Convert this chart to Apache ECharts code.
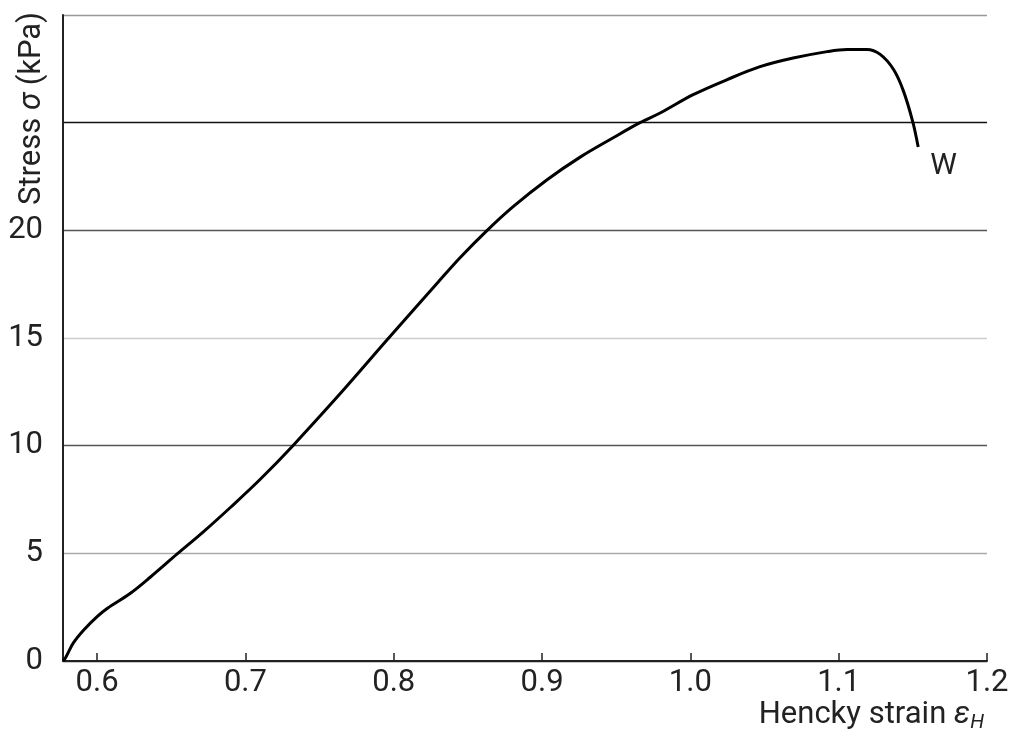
<!DOCTYPE html>
<html><head><meta charset="utf-8">
<script src="https://cdn.jsdelivr.net/npm/echarts@6/dist/echarts.min.js"></script>
<style>html,body{margin:0;padding:0;background:#fff}#c{width:1009px;height:736px}</style>
</head><body><div id="c"></div>
<script>
var strain = [0.577,0.579,0.584,0.591,0.600,0.607,0.622,0.636,0.654,0.672,0.690,0.710,0.732,0.765,0.796,0.830,0.845,0.863,0.8805,0.9034,0.9257,0.948,0.966,0.9796,1.0019,1.0248,1.047,1.0693,1.0922,1.1057,1.119,1.128,1.137,1.1435,1.150,1.1536];
var stress = [0,0.19,0.84,1.44,2.06,2.45,3.12,3.9,4.97,6.02,7.14,8.44,10,12.5,14.95,17.6,18.75,20,21.1,22.35,23.4,24.3,25.0,25.45,26.3,27.0,27.6,28.0,28.3,28.4,28.4,28.17,27.47,26.5,25.03,23.87];
var xTicks = [0.6,0.7,0.8,0.9,1.0,1.1,1.2];
var yTicks = [0,5,10,15,20];
var curveLabel = 'W';

var pts = strain.map(function(x,i){return [x, stress[i]];});
var chart = echarts.init(document.getElementById('c'));
var font = 'Roboto';
chart.setOption({
  animation:false,
  grid:{left:63,right:22,top:15,bottom:75,containLabel:false,outerBoundsMode:'none'},
  xAxis:{
    type:'value', min:0.577, max:1.2,
    name:'Hencky strain {i|ε}{sub|H}',
    nameLocation:'end', nameGap:-3,
    nameTextStyle:{fontFamily:font,fontSize:31,color:'#222',align:'right',verticalAlign:'top',padding:[37,0,0,0],
      rich:{i:{fontFamily:font,fontSize:31,fontStyle:'italic',color:'#222'},sub:{fontFamily:font,fontSize:20,fontStyle:'italic',color:'#222',padding:[15,0,0,0]}}},
    axisLine:{show:true,lineStyle:{color:'#222',width:2}},
    axisTick:{show:true,inside:true,length:8,lineStyle:{color:'#222',width:1.5},customValues:xTicks},
    axisLabel:{fontFamily:font,fontSize:31,color:'#222',margin:7,customValues:xTicks,formatter:function(v){return v.toFixed(1);}},
    splitLine:{show:false}
  },
  yAxis:{
    type:'value', min:0, max:30, interval:5,
    name:'Stress {i|σ} (kPa)',
    nameLocation:'end', nameRotate:90, nameGap:3,
    nameTextStyle:{fontFamily:font,fontSize:31,color:'#222',align:'right',verticalAlign:'bottom',padding:[0,0,15,0],
      rich:{i:{fontFamily:font,fontSize:31,fontStyle:'italic',color:'#222'}}},
    axisLine:{show:true,lineStyle:{color:'#222',width:2}},
    axisTick:{show:false},
    axisLabel:{fontFamily:font,fontSize:31,color:'#222',margin:20,
      formatter:function(v){return yTicks.indexOf(v)>=0 ? String(v) : '';}},
    splitLine:{show:true,lineStyle:{width:1.3,color:['#222','#aaa','#555','#ccc','#555','#111','#999']}}
  },
  series:[{
    type:'line', data:pts, smooth:0.35, showSymbol:false, symbol:'none',
    lineStyle:{color:'#000',width:3},
    endLabel:{show:true,formatter:curveLabel,fontFamily:font,fontSize:30,color:'#222',offset:[4,20]}
  }]
});
</script></body></html>
